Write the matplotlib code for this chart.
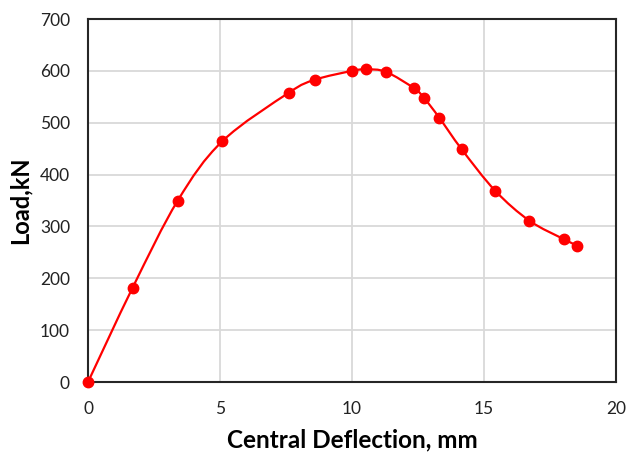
import matplotlib
matplotlib.use("Agg")
import matplotlib.pyplot as plt
from matplotlib.path import Path
from matplotlib.patches import PathPatch
import numpy as np

# Load-deflection test readings
deflection_mm = [0.0, 1.69, 3.40, 5.08, 7.61, 8.60, 10.01, 10.53, 11.29, 12.36,
                 12.74, 13.30, 14.15, 15.42, 16.72, 18.04, 18.53]
load_kN = [0, 182, 350, 464, 558, 583, 600, 603, 598, 566,
           547, 510, 449, 369, 311, 275, 263]

x_ticks = [0, 5, 10, 15, 20]
y_ticks = [0, 100, 200, 300, 400, 500, 600, 700]

plt.rcParams['font.family'] = ['Lato', 'DejaVu Sans']

fig = plt.figure(figsize=(6.27, 4.57), dpi=100)
ax = fig.add_axes([0.1404, 0.1641, 0.8421, 0.7943])

# Smoothed connecting line: cubic Bezier segments through every reading
x = np.asarray(deflection_mm, float)
y = np.asarray(load_kN, float)
n = len(x)
verts = [(x[0], y[0])]
codes = [Path.MOVETO]
for i in range(n - 1):
    x0, y0 = (x[i - 1], y[i - 1]) if i > 0 else (x[i], y[i])
    x3, y3 = (x[i + 2], y[i + 2]) if i + 2 < n else (x[i + 1], y[i + 1])
    c1 = (x[i] + (x[i + 1] - x0) / 6, y[i] + (y[i + 1] - y0) / 6)
    c2 = (x[i + 1] - (x3 - x[i]) / 6, y[i + 1] - (y3 - y[i]) / 6)
    verts += [c1, c2, (x[i + 1], y[i + 1])]
    codes += [Path.CURVE4] * 3
ax.add_patch(PathPatch(Path(verts, codes), facecolor='none',
                       edgecolor='#ff0000', lw=1.6, zorder=3))
ax.plot(deflection_mm, load_kN, linestyle='none', marker='o', ms=7.5,
        color='#ff0000', zorder=4, clip_on=False)

ax.set_xlim(0, 20)
ax.set_ylim(0, 700)
ax.set_xticks(x_ticks)
ax.set_yticks(y_ticks)
ax.grid(True, color='#d9d9d9', lw=1.3)
ax.set_axisbelow(True)
ax.tick_params(length=0, labelsize=12.5, colors='#222222')
ax.tick_params(axis='x', pad=14)
ax.tick_params(axis='y', pad=13)
for s in ax.spines.values():
    s.set_color('#262626')
    s.set_linewidth(1.5)

ax.set_xlabel('Central Deflection, mm', fontsize=17.5, fontweight='bold', labelpad=8)
ax.set_ylabel('Load,kN', fontsize=17, fontweight='bold', labelpad=6)

fig.savefig('out.png', dpi=100)
